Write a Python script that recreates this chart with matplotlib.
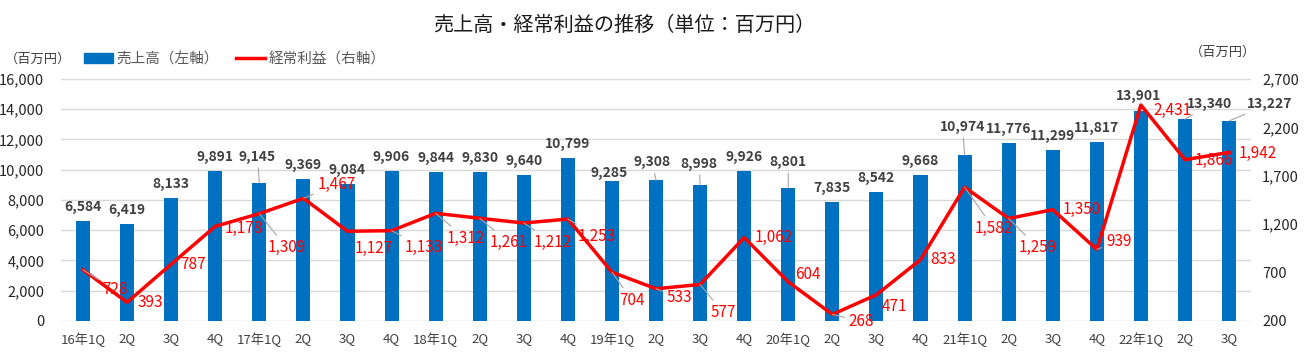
import numpy as np
import matplotlib
matplotlib.use('Agg')
import matplotlib.pyplot as plt
from matplotlib.lines import Line2D
from matplotlib.patches import Patch

plt.rcParams['font.family'] = ['Noto Sans CJK JP', 'DejaVu Sans']

# ---- data ----
quarters = ['16年1Q', '2Q', '3Q', '4Q', '17年1Q', '2Q', '3Q', '4Q', '18年1Q', '2Q', '3Q', '4Q',
            '19年1Q', '2Q', '3Q', '4Q', '20年1Q', '2Q', '3Q', '4Q', '21年1Q', '2Q', '3Q', '4Q',
            '22年1Q', '2Q', '3Q']
sales = [6584, 6419, 8133, 9891, 9145, 9369, 9084, 9906, 9844, 9830, 9640, 10799,
         9285, 9308, 8998, 9926, 8801, 7835, 8542, 9668, 10974, 11776, 11299, 11817,
         13901, 13340, 13227]
profit = [728, 393, 787, 1178, 1309, 1467, 1127, 1133, 1312, 1261, 1212, 1253,
          704, 533, 577, 1062, 604, 268, 471, 833, 1582, 1259, 1350, 939,
          2431, 1866, 1942]

# ---- label placement (pixels, dy positive = down) ----
sales_off = {4: (-2, 26), 12: (-3, 8), 13: (-4, 18), 14: (-1, 21), 16: (0, 26),
             20: (-2, 28), 24: (-2, 15), 25: (25, 15), 26: (41, 17)}
sales_leader = [4, 13, 14, 16, 20, 25, 26]
profit_off = [(32, 20), (23, 0), (22, 0), (29, 2), (27, 34), (33, -14), (26, 17), (32, 17),
              (30, 25), (29, 24), (29, 19), (29, 17), (20, 28), (23, 9), (23, 28), (29, 0),
              (20, -7), (29, 7), (18, 12), (23, 0), (29, 41), (29, 29), (29, 0), (22, -8),
              (32, 5), (29, 1), (29, 1)]
profit_leader = [0, 4, 5, 7, 8, 9, 10, 11, 12, 13, 14, 17, 20, 21, 23]

BLUE = '#0070c0'
RED = '#ff0000'
GRID = '#d9d9d9'
LEAD = dict(arrowstyle='-', color='#a6a6a6', lw=0.8, shrinkA=1, shrinkB=0)


def main():
    fig = plt.figure(figsize=(13.15, 3.58), dpi=100)
    ax = fig.add_axes([0.0464, 0.1034, 0.905, 0.676])
    ax2 = ax.twinx()
    x = np.arange(len(quarters))

    ax.bar(x, sales, width=0.32, color=BLUE, zorder=2)
    ax.set_ylim(0, 16000)
    ax.set_yticks(np.arange(0, 16001, 2000))
    ax.set_yticklabels([f'{v:,}' for v in range(0, 16001, 2000)])
    ax.set_xlim(-0.5, len(quarters) - 0.5)
    ax.set_xticks(x)
    ax.set_xticklabels(quarters, fontsize=9.5, color='#404040')
    ax.grid(axis='y', color=GRID, lw=1, zorder=0)
    ax.set_axisbelow(True)
    for s in ax.spines.values():
        s.set_visible(False)
    ax.tick_params(length=0)
    ax.tick_params(axis='y', labelsize=10.5, pad=12, colors='#262626')
    ax.tick_params(axis='x', pad=8)

    ax2.plot(x, profit, color=RED, lw=2.5, zorder=3)
    ax2.set_ylim(200, 2700)
    ax2.set_yticks(np.arange(200, 2701, 500))
    ax2.set_yticklabels([f'{v:,}' for v in range(200, 2701, 500)])
    for s in ax2.spines.values():
        s.set_visible(False)
    ax2.tick_params(length=0, labelsize=10.5, pad=8, colors='#262626')

    # sales labels
    for i, v in enumerate(sales):
        dx, dy = sales_off.get(i, (0, 14))
        ax.annotate(f'{v:,}', (i, v), xytext=(dx, dy), textcoords='offset pixels',
                    ha='center', va='center', fontsize=10, fontweight='bold', color='#404040',
                    arrowprops=LEAD if i in sales_leader else None, zorder=5)

    # profit labels
    for i, v in enumerate(profit):
        dx, dy = profit_off[i]
        ax2.annotate(f'{v:,}', (i, v), xytext=(dx, -dy), textcoords='offset pixels',
                     ha='center', va='center', fontsize=11, color=RED,
                     arrowprops=LEAD if i in profit_leader else None, zorder=5)

    fig.text(0.475, 0.93, '売上高・経常利益の推移（単位：百万円）', ha='center', va='center',
             fontsize=14.5, color='#1a1a1a')
    fig.text(0.004, 0.835, '（百万円）', ha='left', va='center', fontsize=9.5, color='#404040')
    fig.text(0.905, 0.855, '（百万円）', ha='left', va='center', fontsize=9.5, color='#404040')

    handles = [Patch(color=BLUE), Line2D([0], [0], color=RED, lw=2.5)]
    fig.legend(handles, ['売上高（左軸）', '経常利益（右軸）'], loc='center left',
               bbox_to_anchor=(0.054, 0.835), ncol=2, frameon=False, fontsize=10.5,
               handlelength=2.0, handleheight=0.6, handletextpad=0.2, columnspacing=1.2,
               labelcolor='#595959')

    fig.savefig('out.png', dpi=100)


if __name__ == '__main__':
    main()
